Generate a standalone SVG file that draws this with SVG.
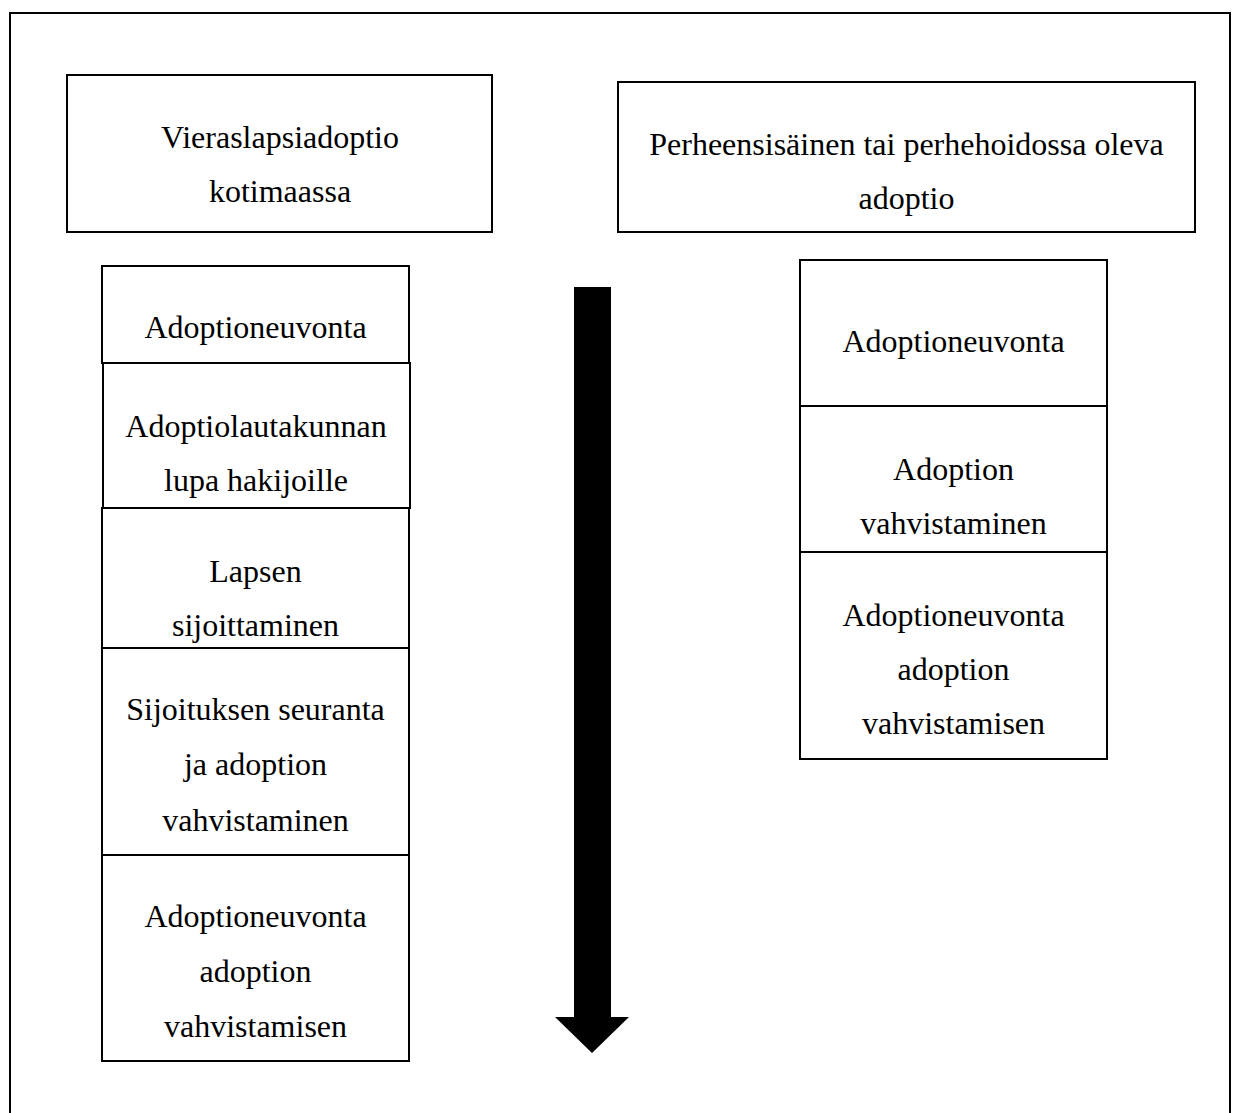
<svg xmlns="http://www.w3.org/2000/svg" width="1237" height="1113" viewBox="0 0 1237 1113">
<style>
.box{fill:#fff;stroke:#000;stroke-width:2}
.t{font-family:"Liberation Serif","Times New Roman",serif;font-size:32px;fill:#000;text-anchor:middle}
</style>
<rect width="1237" height="1113" fill="#fff"/>
<rect id="frame" x="10" y="13" width="1220" height="1120" fill="none" stroke="#000" stroke-width="2"/>
<g id="header-left"><rect class="box" x="67" y="75" width="425" height="157"/>
<text class="t" x="280" y="148">Vieraslapsiadoptio</text><text class="t" x="280" y="202">kotimaassa</text></g>
<g id="header-right"><rect class="box" x="618" y="82" width="577" height="150"/>
<text class="t" x="906.5" y="155">Perheensisäinen tai perhehoidossa oleva</text><text class="t" x="906.5" y="209">adoptio</text></g>
<g id="l1"><rect class="box" x="102" y="266" width="307" height="97"/><text class="t" x="255.5" y="338">Adoptioneuvonta</text></g>
<g id="l2"><rect class="box" x="103" y="363" width="307" height="145"/><text class="t" x="256" y="437">Adoptiolautakunnan</text><text class="t" x="256" y="491">lupa hakijoille</text></g>
<g id="l3"><rect class="box" x="102" y="508" width="307" height="140"/><text class="t" x="255.5" y="582">Lapsen</text><text class="t" x="255.5" y="636">sijoittaminen</text></g>
<g id="l4"><rect class="box" x="102" y="648" width="307" height="207"/><text class="t" x="255.5" y="720">Sijoituksen seuranta</text><text class="t" x="255.5" y="775">ja adoption</text><text class="t" x="255.5" y="831">vahvistaminen</text></g>
<g id="l5"><rect class="box" x="102" y="855" width="307" height="206"/><text class="t" x="255.5" y="927">Adoptioneuvonta</text><text class="t" x="255.5" y="982">adoption</text><text class="t" x="255.5" y="1037">vahvistamisen</text></g>
<g id="r1"><rect class="box" x="800" y="260" width="307" height="146"/><text class="t" x="953.5" y="352">Adoptioneuvonta</text></g>
<g id="r2"><rect class="box" x="800" y="406" width="307" height="146"/><text class="t" x="953.5" y="480">Adoption</text><text class="t" x="953.5" y="534">vahvistaminen</text></g>
<g id="r3"><rect class="box" x="800" y="552" width="307" height="207"/><text class="t" x="953.5" y="626">Adoptioneuvonta</text><text class="t" x="953.5" y="680">adoption</text><text class="t" x="953.5" y="734">vahvistamisen</text></g>
<g id="connectors">
<path d="M574 287 H611 V1017 H629 L592 1053 L555 1017 H574 Z" fill="#000"/>
</g>
</svg>
